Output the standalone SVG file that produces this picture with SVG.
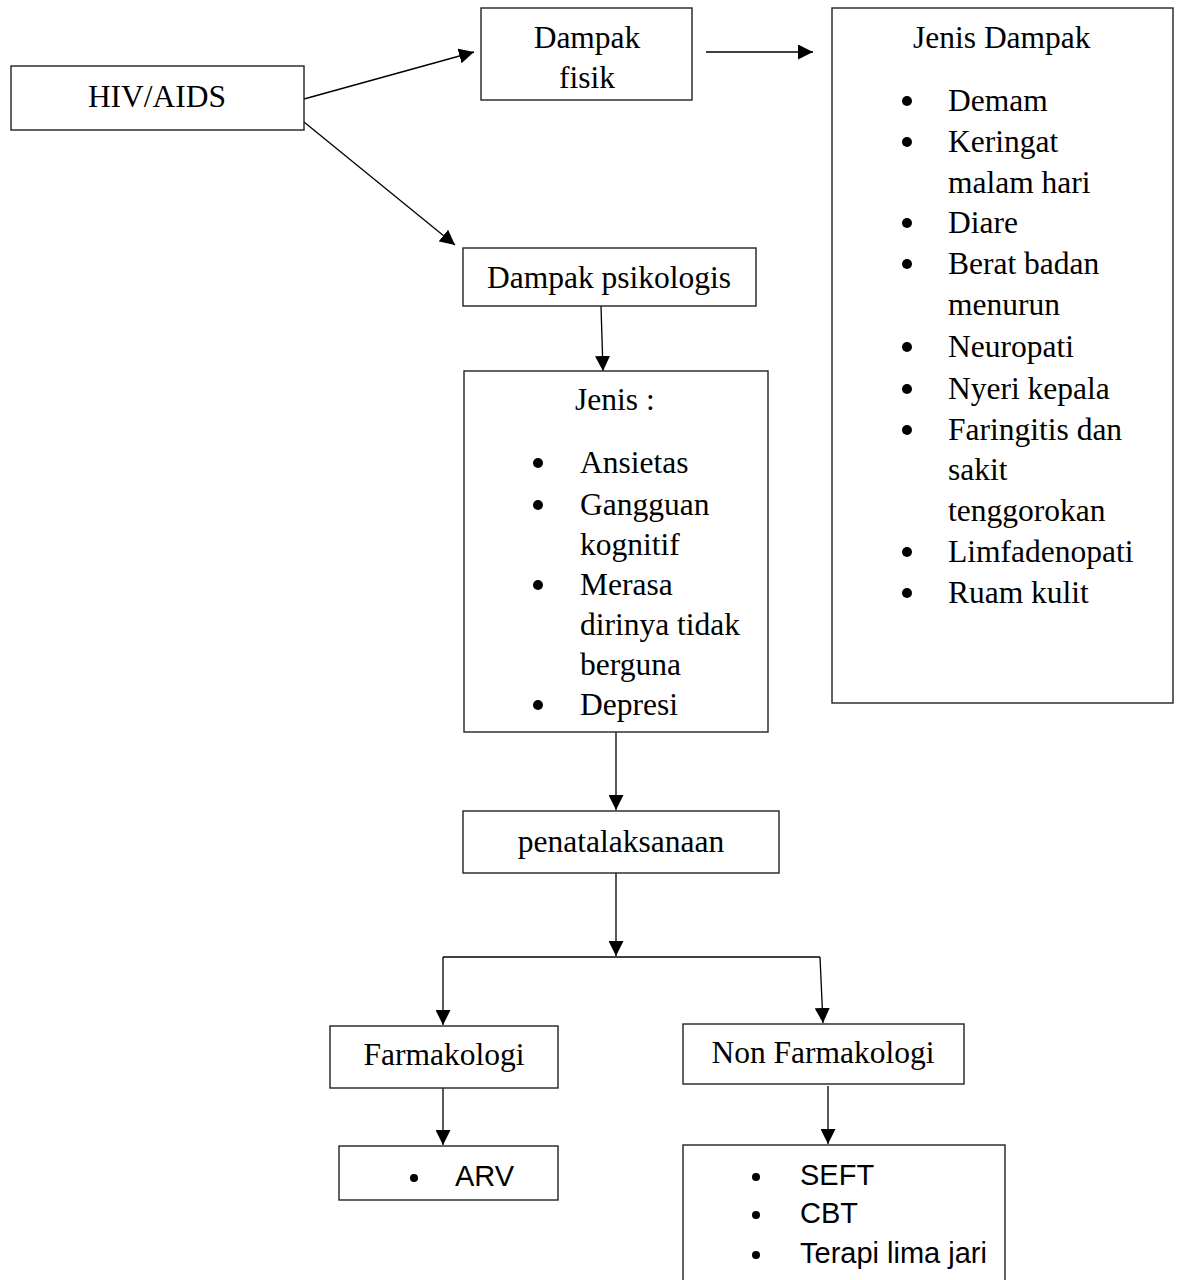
<svg xmlns="http://www.w3.org/2000/svg" width="1178" height="1280" viewBox="0 0 1178 1280">
<defs>
<marker id="arr" markerWidth="15" markerHeight="15" refX="15" refY="7.5" orient="auto" markerUnits="userSpaceOnUse">
<path d="M0,0 L15,7.5 L0,15 z" fill="#000"/>
</marker>
<style>
.box{fill:#fff;stroke:#222;stroke-width:1.4}
.t{font-family:"Liberation Serif","Times New Roman",serif;font-size:31.5px;fill:#000}
.a{font-family:"Liberation Sans",Arial,sans-serif;font-size:29px;fill:#000}
.c{text-anchor:middle}
.ln{stroke:#000;stroke-width:1.3;fill:none}
.b{fill:#000}
</style>
</defs>
<rect width="1178" height="1280" fill="#fff"/>
<g id="connectors">
<line class="ln" x1="304" y1="99" x2="474" y2="52" marker-end="url(#arr)"/>
<line class="ln" x1="706" y1="52" x2="813" y2="52" marker-end="url(#arr)"/>
<line class="ln" x1="304" y1="122" x2="455" y2="245" marker-end="url(#arr)"/>
<line class="ln" x1="601" y1="306" x2="603" y2="371" marker-end="url(#arr)"/>
<line class="ln" x1="616" y1="732" x2="616" y2="810" marker-end="url(#arr)"/>
<line class="ln" x1="616" y1="873" x2="616" y2="956" marker-end="url(#arr)"/>
<line class="ln" x1="443" y1="957" x2="820" y2="957"/>
<line class="ln" x1="443" y1="957" x2="443" y2="1025" marker-end="url(#arr)"/>
<line class="ln" x1="820" y1="957" x2="823" y2="1023" marker-end="url(#arr)"/>
<line class="ln" x1="443" y1="1088" x2="443" y2="1145" marker-end="url(#arr)"/>
<line class="ln" x1="828" y1="1086" x2="828" y2="1144" marker-end="url(#arr)"/>
</g>
<g id="hiv">
<rect class="box" x="11" y="66" width="293" height="64"/>
<text class="t c" x="157" y="107">HIV/AIDS</text>
</g>
<g id="dampak-fisik">
<rect class="box" x="481" y="8" width="211" height="92"/>
<text class="t c" x="587" y="48">Dampak</text>
<text class="t c" x="587" y="88">fisik</text>
</g>
<g id="jenis-dampak">
<rect class="box" x="832" y="8" width="341" height="695"/>
<text class="t" x="913" y="48">Jenis Dampak</text>
<circle class="b" cx="907" cy="101" r="5"/><text class="t" x="948" y="111">Demam</text>
<circle class="b" cx="907" cy="142" r="5"/><text class="t" x="948" y="152">Keringat</text>
<text class="t" x="948" y="193">malam hari</text>
<circle class="b" cx="907" cy="223" r="5"/><text class="t" x="948" y="233">Diare</text>
<circle class="b" cx="907" cy="264" r="5"/><text class="t" x="948" y="274">Berat badan</text>
<text class="t" x="948" y="315">menurun</text>
<circle class="b" cx="907" cy="347" r="5"/><text class="t" x="948" y="357">Neuropati</text>
<circle class="b" cx="907" cy="389" r="5"/><text class="t" x="948" y="399">Nyeri kepala</text>
<circle class="b" cx="907" cy="430" r="5"/><text class="t" x="948" y="440">Faringitis dan</text>
<text class="t" x="948" y="480">sakit</text>
<text class="t" x="948" y="521">tenggorokan</text>
<circle class="b" cx="907" cy="552" r="5"/><text class="t" x="948" y="562">Limfadenopati</text>
<circle class="b" cx="907" cy="593" r="5"/><text class="t" x="948" y="603">Ruam kulit</text>
</g>
<g id="dampak-psikologis">
<rect class="box" x="463" y="248" width="293" height="58"/>
<text class="t c" x="609" y="288">Dampak psikologis</text>
</g>
<g id="jenis">
<rect class="box" x="464" y="371" width="304" height="361"/>
<text class="t" x="575" y="410">Jenis :</text>
<circle class="b" cx="538" cy="463" r="5"/><text class="t" x="580" y="473">Ansietas</text>
<circle class="b" cx="538" cy="505" r="5"/><text class="t" x="580" y="515">Gangguan</text>
<text class="t" x="580" y="555">kognitif</text>
<circle class="b" cx="538" cy="585" r="5"/><text class="t" x="580" y="595">Merasa</text>
<text class="t" x="580" y="635">dirinya tidak</text>
<text class="t" x="580" y="675">berguna</text>
<circle class="b" cx="538" cy="705" r="5"/><text class="t" x="580" y="715">Depresi</text>
</g>
<g id="penatalaksanaan">
<rect class="box" x="463" y="811" width="316" height="62"/>
<text class="t c" x="621" y="852">penatalaksanaan</text>
</g>
<g id="farmakologi">
<rect class="box" x="330" y="1026" width="228" height="62"/>
<text class="t c" x="444" y="1065">Farmakologi</text>
</g>
<g id="non-farmakologi">
<rect class="box" x="683" y="1024" width="281" height="60"/>
<text class="t c" x="823" y="1063">Non Farmakologi</text>
</g>
<g id="arv">
<rect class="box" x="339" y="1146" width="219" height="54"/>
<circle class="b" cx="414" cy="1178" r="4"/>
<text class="a" x="455" y="1186">ARV</text>
</g>
<g id="non-farmakologi-list">
<rect class="box" x="683" y="1145" width="322" height="160"/>
<circle class="b" cx="756" cy="1177" r="4"/><text class="a" x="800" y="1185">SEFT</text>
<circle class="b" cx="756" cy="1215" r="4"/><text class="a" x="800" y="1223">CBT</text>
<circle class="b" cx="756" cy="1255" r="4"/><text class="a" x="800" y="1263">Terapi lima jari</text>
</g>
</svg>
